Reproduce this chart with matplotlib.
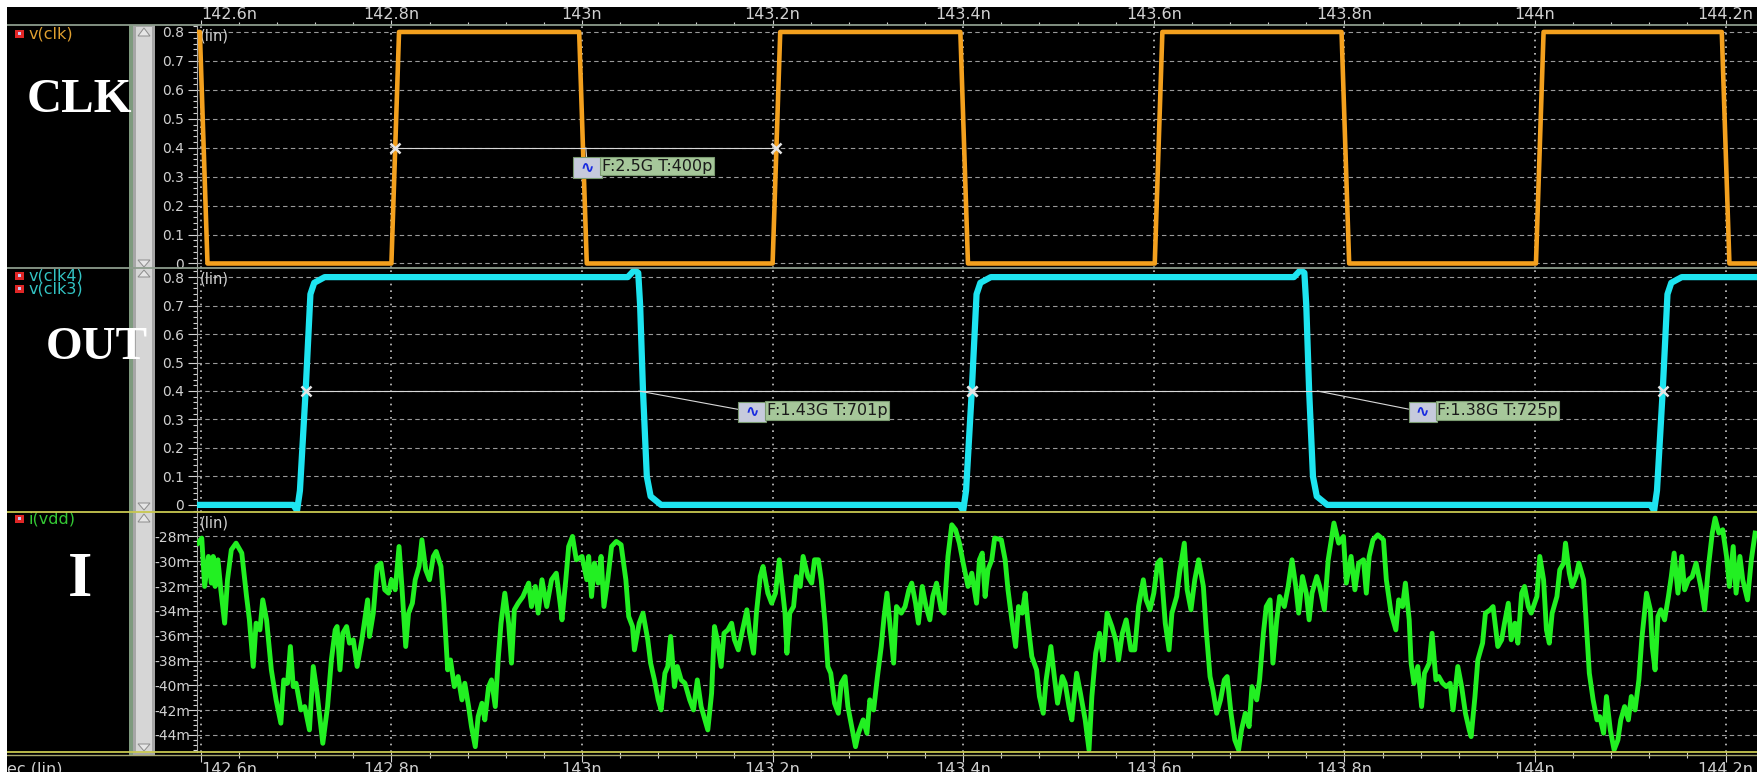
import matplotlib.pyplot as plt
from matplotlib.patches import Rectangle, Polygon
from matplotlib.lines import Line2D
from matplotlib.ticker import MultipleLocator, FuncFormatter

# ---- data, time in ns ----
t_lim = (142.596, 144.234)
x_ticks = [142.6, 142.8, 143.0, 143.2, 143.4, 143.6, 143.8, 144.0, 144.2]
x_labels = ["142.6n", "142.8n", "143n", "143.2n", "143.4n", "143.6n", "143.8n", "144n", "144.2n"]

v_ticks = [0, 0.1, 0.2, 0.3, 0.4, 0.5, 0.6, 0.7, 0.8]
i_ticks = [-28, -30, -32, -34, -36, -38, -40, -42, -44]

# v(clk)
clk_t = [142.596, 142.599, 142.607, 142.800, 142.808, 142.997, 143.005, 143.200, 143.208,
         143.397, 143.405, 143.601, 143.609, 143.797, 143.805, 144.001, 144.009, 144.196,
         144.204, 144.234]
clk_v = [0.8, 0.8, 0.0, 0.0, 0.8, 0.8, 0.0, 0.0, 0.8,
         0.8, 0.0, 0.0, 0.8, 0.8, 0.0, 0.0, 0.8, 0.8,
         0.0, 0.0]

# v(clk4) / v(clk3)
out_t = [142.596, 142.697, 142.701, 142.704, 142.710, 142.715, 142.719, 142.730,
         143.048, 143.055, 143.059, 143.061, 143.064, 143.068, 143.072, 143.083,
         143.396, 143.400, 143.403, 143.409, 143.414, 143.418, 143.429,
         143.747, 143.754, 143.758, 143.760, 143.763, 143.767, 143.771, 143.782,
         144.121, 144.125, 144.128, 144.134, 144.139, 144.143, 144.154, 144.234]
out_v = [0.0, 0.0, -0.02, 0.05, 0.40, 0.74, 0.78, 0.80,
         0.80, 0.825, 0.815, 0.70, 0.40, 0.10, 0.03, 0.0,
         0.0, -0.02, 0.05, 0.40, 0.74, 0.78, 0.80,
         0.80, 0.825, 0.815, 0.70, 0.40, 0.10, 0.03, 0.0,
         0.0, -0.02, 0.05, 0.40, 0.74, 0.78, 0.80, 0.80]

# i(vdd) in mA, (time, current)
idd = [
    (142.597, -28.54), (142.601, -28.13), (142.604, -32.03), (142.608, -29.61), (142.611, -31.76),
    (142.613, -29.61), (142.615, -32.03), (142.618, -29.88), (142.621, -32.30), (142.625, -34.99),
    (142.628, -31.49), (142.632, -29.08), (142.637, -28.54), (142.643, -29.34), (142.648, -32.84),
    (142.651, -34.72), (142.655, -38.48), (142.658, -34.99), (142.662, -35.53), (142.665, -33.11),
    (142.669, -34.72), (142.674, -38.75), (142.679, -41.17), (142.684, -43.05), (142.687, -39.56),
    (142.691, -39.83), (142.694, -36.87), (142.697, -40.10), (142.700, -39.83), (142.705, -41.98),
    (142.709, -41.71), (142.714, -43.59), (142.718, -38.48), (142.722, -40.63), (142.728, -44.67),
    (142.733, -41.71), (142.737, -37.95), (142.741, -35.53), (142.743, -35.26), (142.746, -38.75),
    (142.749, -35.80), (142.753, -35.26), (142.756, -36.60), (142.760, -36.33), (142.764, -38.48),
    (142.769, -36.33), (142.772, -34.72), (142.775, -33.11), (142.777, -36.06), (142.781, -34.18),
    (142.785, -30.42), (142.789, -30.15), (142.793, -32.30), (142.797, -32.57), (142.800, -31.49),
    (142.804, -32.30), (142.808, -28.81), (142.811, -32.03), (142.815, -36.87), (142.818, -34.18),
    (142.822, -33.38), (142.825, -31.49), (142.829, -30.42), (142.832, -28.27), (142.836, -30.69),
    (142.840, -31.49), (142.844, -29.61), (142.847, -29.21), (142.852, -30.42), (142.855, -33.38),
    (142.859, -38.75), (142.862, -37.95), (142.866, -40.10), (142.870, -39.29), (142.874, -41.17),
    (142.877, -39.83), (142.881, -41.71), (142.884, -43.32), (142.888, -44.94), (142.891, -42.52),
    (142.895, -41.44), (142.898, -42.78), (142.902, -40.10), (142.905, -39.56), (142.909, -41.71),
    (142.912, -37.95), (142.915, -34.99), (142.919, -32.57), (142.923, -34.99), (142.926, -38.21),
    (142.929, -33.91), (142.933, -33.38), (142.938, -32.84), (142.944, -31.76), (142.947, -33.65),
    (142.951, -32.03), (142.954, -34.18), (142.958, -31.49), (142.963, -33.65), (142.968, -31.49),
    (142.973, -30.96), (142.977, -33.38), (142.979, -34.72), (142.983, -31.49), (142.986, -28.81),
    (142.990, -28.00), (142.994, -29.88), (143.000, -29.61),
    (143.005, -31.49), (143.007, -29.61), (143.010, -32.84), (143.013, -30.15), (143.017, -31.76),
    (143.020, -29.61), (143.023, -33.65), (143.027, -31.49), (143.031, -28.81), (143.036, -28.40),
    (143.041, -28.67), (143.046, -31.49), (143.049, -34.45), (143.053, -35.26), (143.055, -37.14),
    (143.060, -34.99), (143.064, -34.18), (143.069, -36.33), (143.072, -38.21), (143.076, -39.56),
    (143.080, -41.17), (143.083, -41.98), (143.087, -39.02), (143.090, -38.48), (143.093, -36.06),
    (143.097, -40.10), (143.100, -38.48), (143.104, -39.56), (143.108, -39.83), (143.113, -41.17),
    (143.117, -41.98), (143.121, -39.56), (143.125, -41.71), (143.129, -42.78), (143.132, -43.59),
    (143.136, -40.63), (143.139, -35.26), (143.142, -36.33), (143.146, -38.48), (143.149, -35.80),
    (143.153, -35.53), (143.157, -34.99), (143.160, -36.33), (143.164, -37.14), (143.167, -36.06),
    (143.173, -33.91), (143.176, -35.80), (143.180, -37.41), (143.183, -34.18), (143.187, -31.23),
    (143.190, -30.42), (143.195, -32.57), (143.199, -33.38), (143.203, -32.57), (143.207, -29.88),
    (143.210, -32.03), (143.213, -34.18), (143.215, -37.41), (143.218, -34.18), (143.222, -33.65),
    (143.225, -31.23), (143.229, -32.03), (143.232, -29.61), (143.237, -31.23), (143.241, -31.76),
    (143.244, -29.88), (143.248, -29.88), (143.251, -31.49), (143.255, -34.99), (143.258, -38.48),
    (143.261, -39.02), (143.265, -41.44), (143.269, -42.25), (143.272, -39.83), (143.276, -39.29),
    (143.279, -41.71), (143.283, -43.32), (143.287, -44.94), (143.290, -43.86), (143.295, -42.78),
    (143.299, -43.86), (143.302, -41.17), (143.306, -41.98), (143.310, -39.29), (143.314, -36.87),
    (143.317, -34.45), (143.320, -32.57), (143.323, -34.99), (143.327, -38.21), (143.330, -33.65),
    (143.335, -34.18), (143.339, -33.65), (143.343, -32.30), (143.346, -31.76), (143.350, -33.38),
    (143.353, -34.99), (143.357, -32.03), (143.361, -33.65), (143.365, -34.72), (143.368, -32.84),
    (143.372, -31.76), (143.377, -33.91), (143.380, -34.18), (143.384, -29.61), (143.388, -27.06),
    (143.392, -27.46), (143.396, -28.54), (143.400, -30.15), (143.405, -32.03), (143.409, -30.96),
    (143.414, -33.38), (143.417, -29.88), (143.420, -29.34), (143.423, -32.84), (143.426, -30.69),
    (143.430, -29.88), (143.433, -28.13), (143.440, -28.27), (143.444, -29.88), (143.447, -32.30),
    (143.451, -34.72), (143.455, -36.87), (143.458, -33.65), (143.462, -34.18), (143.465, -32.57),
    (143.468, -34.99), (143.472, -37.68), (143.477, -38.75), (143.480, -40.90), (143.484, -42.25),
    (143.487, -39.56), (143.492, -36.87), (143.496, -39.56), (143.499, -41.44), (143.504, -39.29),
    (143.507, -39.83), (143.511, -41.71), (143.514, -42.78), (143.519, -39.02), (143.523, -40.63),
    (143.528, -42.78), (143.532, -45.20), (143.535, -40.90), (143.539, -37.41), (143.543, -35.80),
    (143.547, -37.95), (143.551, -34.18), (143.556, -35.26), (143.560, -36.33), (143.563, -37.95),
    (143.567, -35.80), (143.571, -34.72), (143.576, -37.14), (143.580, -37.14), (143.584, -33.65),
    (143.589, -31.49), (143.592, -33.11), (143.596, -33.91), (143.600, -32.57), (143.604, -30.15),
    (143.607, -29.88), (143.612, -34.99), (143.616, -37.14), (143.619, -34.18), (143.624, -32.84),
    (143.627, -30.96), (143.632, -28.54), (143.635, -32.30), (143.639, -33.91), (143.643, -31.49),
    (143.647, -29.88), (143.652, -32.03), (143.655, -35.53), (143.659, -39.29), (143.662, -40.37),
    (143.666, -42.25), (143.670, -41.17), (143.674, -39.56), (143.677, -39.29), (143.681, -42.25),
    (143.685, -44.40), (143.689, -45.20), (143.692, -43.59), (143.696, -42.25), (143.700, -43.32),
    (143.703, -40.10), (143.708, -41.17), (143.711, -39.56), (143.715, -35.80), (143.718, -33.65),
    (143.722, -33.11), (143.725, -38.21), (143.729, -34.72), (143.732, -32.84), (143.737, -33.65),
    (143.741, -32.03), (143.745, -29.88), (143.749, -32.03), (143.752, -34.18), (143.756, -31.23),
    (143.760, -32.57), (143.763, -34.72), (143.766, -32.57), (143.771, -31.23), (143.774, -32.03),
    (143.779, -33.91), (143.783, -29.88), (143.789, -26.92), (143.794, -28.54), (143.799, -28.00),
    (143.802, -31.76), (143.807, -29.61), (143.811, -32.30), (143.815, -30.15), (143.820, -29.88),
    (143.823, -32.57), (143.826, -29.61), (143.830, -28.27), (143.835, -27.87), (143.841, -28.27),
    (143.844, -31.49), (143.849, -34.18), (143.854, -35.53), (143.857, -33.11), (143.861, -33.65),
    (143.864, -31.76), (143.868, -34.72), (143.870, -38.21), (143.873, -39.83), (143.877, -38.48),
    (143.881, -41.71), (143.884, -39.02), (143.889, -38.21), (143.892, -35.80), (143.896, -39.56),
    (143.899, -39.29), (143.903, -39.83), (143.907, -40.10), (143.911, -39.83), (143.914, -41.98),
    (143.919, -38.48), (143.923, -40.10), (143.927, -42.25), (143.931, -43.59), (143.933, -44.13),
    (143.937, -40.90), (143.940, -37.95), (143.945, -36.60), (143.948, -34.18), (143.953, -33.91),
    (143.956, -33.65), (143.961, -36.87), (143.965, -36.33), (143.968, -34.99), (143.972, -33.38),
    (143.975, -36.33), (143.979, -34.99), (143.982, -36.60), (143.986, -32.57), (143.989, -32.03),
    (143.993, -33.65), (143.996, -34.18), (144.002, -32.84), (144.005, -29.61), (144.009, -31.49),
    (144.012, -35.53), (144.015, -36.60), (144.018, -34.18), (144.023, -32.84), (144.026, -30.69),
    (144.030, -30.15), (144.032, -28.54), (144.036, -30.96), (144.039, -32.03), (144.043, -31.23),
    (144.046, -30.15), (144.051, -31.49), (144.054, -35.26), (144.057, -39.02), (144.061, -41.17),
    (144.065, -42.78), (144.068, -42.52), (144.072, -43.86), (144.075, -40.90), (144.079, -43.59),
    (144.083, -45.20), (144.087, -44.40), (144.090, -42.78), (144.094, -41.71), (144.098, -42.78),
    (144.101, -40.90), (144.105, -41.98), (144.109, -39.56), (144.112, -36.33), (144.117, -32.57),
    (144.121, -33.91), (144.123, -36.87), (144.126, -38.75), (144.129, -34.45), (144.132, -33.91),
    (144.136, -34.72), (144.140, -32.84), (144.143, -31.23), (144.146, -29.34), (144.150, -32.57),
    (144.154, -29.61), (144.157, -32.30), (144.161, -31.49), (144.165, -31.23), (144.169, -30.15),
    (144.174, -32.03), (144.178, -33.91), (144.182, -30.42), (144.186, -27.73), (144.189, -26.52),
    (144.193, -27.73), (144.197, -27.46), (144.201, -29.61), (144.204, -32.03), (144.208, -28.81),
    (144.211, -32.57), (144.215, -29.61), (144.218, -31.49), (144.223, -33.11), (144.227, -29.88),
    (144.231, -27.73),
]
idd_t = [p[0] for p in idd]
idd_v = [p[1] for p in idd]

# period measurements: (start, end, label)
clk_meas = [(142.804, 143.204, "F:2.5G T:400p")]
out_meas = [(142.710, 143.409, "F:1.43G T:701p"), (143.409, 144.134, "F:1.38G T:725p")]

# ---- figure ----
W, H = 1758, 772
fig = plt.figure(figsize=(W / 100, H / 100), dpi=100, facecolor="black")

TXT = "#d2d2d2"
GRID_H = "#9a9a9a"
GRID_V = "#c8c8c8"


def px_box(x, y, w, h):
    return [x / W, 1 - (y + h) / H, w / W, h / H]


def fig_rect(x, y, w, h, color, z=1):
    fig.add_artist(Rectangle((x / W, 1 - (y + h) / H), w / W, h / H,
                             transform=fig.transFigure, fc=color, ec="none", zorder=z))


def fig_hline(y, x0, x1, color, lw=1.3):
    fig.add_artist(Line2D([x0 / W, x1 / W], [1 - y / H] * 2, transform=fig.transFigure,
                          color=color, lw=lw, zorder=6))


def fig_tri(xc, y_base, y_tip):
    pts = [(xc - 6, y_base), (xc + 6, y_base), (xc, y_tip)]
    fig.add_artist(Polygon([(x / W, 1 - y / H) for x, y in pts], closed=True,
                           transform=fig.transFigure, fc="#e6e6e6", ec="#8c8c8c", lw=0.7, zorder=3))


def fig_text(x, y, s, **kw):
    fig.text(x / W, 1 - y / H, s, **kw)


ax_clk = fig.add_axes(px_box(197, 25, 1561, 243))
ax_out = fig.add_axes(px_box(197, 268, 1561, 244))
ax_i = fig.add_axes(px_box(197, 512, 1561, 240))

for ax in (ax_clk, ax_out, ax_i):
    ax.set_facecolor("black")
    ax.set_xlim(*t_lim)
    for s in ("top", "right", "bottom"):
        ax.spines[s].set_visible(False)
    ax.spines["left"].set_color("#a8a8a8")
    ax.set_xticks(x_ticks)
    ax.set_xticklabels(x_labels)
    ax.xaxis.set_minor_locator(MultipleLocator(0.04))
    ax.tick_params(axis="x", which="both", bottom=False, labelbottom=False, top=False, labeltop=False)
    ax.tick_params(axis="y", which="major", colors=TXT, labelsize=10, length=6.5, width=0.8, pad=3)
    ax.tick_params(axis="y", which="minor", colors=TXT, length=3, width=0.8)
    ax.grid(axis="y", which="major", color=GRID_H, ls=(0, (4, 3)), lw=0.8)
    ax.grid(axis="x", which="major", color=GRID_V, ls=(0, (1, 3)), lw=1.2)
    ax.set_axisbelow(True)
    ax.text(0.002, 0.985, "(lin)", transform=ax.transAxes, ha="left", va="top",
            color=TXT, fontsize=10.5, zorder=1)

# voltage panels
for ax, lo, hi in ((ax_clk, -0.0156, 0.824), (ax_out, -0.025, 0.832)):
    ax.set_ylim(lo, hi)
    ax.set_yticks(v_ticks)
    ax.yaxis.set_major_formatter(FuncFormatter(lambda v, p: f"{v:g}"))
    ax.yaxis.set_minor_locator(MultipleLocator(0.02))

# current panel
ax_i.set_ylim(-45.37, -26.03)
ax_i.set_yticks(i_ticks)
ax_i.yaxis.set_major_formatter(FuncFormatter(lambda v, p: f"{v:g}m"))
ax_i.yaxis.set_minor_locator(MultipleLocator(0.4))
ax_i.tick_params(axis="y", which="major", pad=-1.5)

# time axis on top and bottom
ax_clk.tick_params(axis="x", which="both", top=True, labeltop=True, direction="out",
                   colors=TXT, width=0.8)
ax_clk.tick_params(axis="x", which="major", length=3.6, pad=-1.5, labelsize=11.5)
ax_clk.tick_params(axis="x", which="minor", length=2.4)
ax_clk.xaxis.get_major_ticks()[0].label2.set_ha("left")

ax_i.tick_params(axis="x", which="both", bottom=True, labelbottom=True, direction="out",
                 colors=TXT, width=0.8)
ax_i.tick_params(axis="x", which="major", length=7, pad=0.5, labelsize=11.5)
ax_i.tick_params(axis="x", which="minor", length=4)
ax_i.xaxis.get_major_ticks()[0].label1.set_ha("left")

# traces
ax_clk.plot(clk_t, clk_v, color="#f3a01e", lw=3.3, zorder=3)
ax_out.plot(out_t, out_v, color="#1ee4f0", lw=4.5, zorder=3)
ax_i.plot(idd_t, idd_v, color="#22f022", lw=3.5, zorder=3)


def draw_meas(ax, t0, t1, label, dx, dy):
    ax.plot([t0, t1], [0.4, 0.4], color="#d8d8d8", lw=0.8, zorder=4)
    ax.plot([t0, t1], [0.4, 0.4], ls="none", marker="x", ms=7.5, mew=1.8, color="#e4e4e4", zorder=5)
    mid = (t0 + t1) / 2
    ax.annotate(" \u223f ", xy=(mid, 0.4), xytext=(dx, dy), textcoords="offset pixels",
                ha="left", va="top", color="#1a2ce0", fontsize=12, fontweight="bold",
                bbox=dict(boxstyle="square,pad=0.08", fc="#c6cadc", ec="#7a9a70", lw=0.8),
                arrowprops=dict(arrowstyle="-", color="#d8d8d8", lw=0.8, shrinkA=0, shrinkB=0),
                zorder=6)
    ax.annotate(label, xy=(mid, 0.4), xytext=(dx + 27, dy), textcoords="offset pixels",
                ha="left", va="top", color="#1a1a1a", fontsize=11.5,
                bbox=dict(boxstyle="square,pad=0.1", fc="#a6c79a", ec="#7a9a70", lw=0.8),
                zorder=6)


for t0, t1, lab in clk_meas:
    draw_meas(ax_clk, t0, t1, lab, -11, -11)
for (t0, t1, lab), (dx, dy) in zip(out_meas, [(101, -12), (93, -12)]):
    draw_meas(ax_out, t0, t1, lab, dx, dy)

# ---- left strip: legend names, scrollbar ----
fig_rect(129, 25, 4, 730, "#7e9a7e")
fig_rect(133, 25, 22, 730, "#a6a6a6")
fig_rect(136, 27, 16, 726, "#d6d6d6", z=2)
for yb, yt in ((36, 28), (260, 267), (277, 270), (503, 510), (522, 514), (744, 751)):
    fig_tri(144, yb, yt)

icon_rows = [(34, "v(clk)", "#e0a030"), (276, "v(clk4)", "#33c4c4"),
             (289, "v(clk3)", "#33c4c4"), (519, "i(vdd)", "#34c834")]
for y, name, col in icon_rows:
    fig_rect(15, y - 4, 9, 8, "#e02626", z=4)
    fig_rect(18, y - 2, 3, 3, "#c8c8f4", z=5)
    fig_text(29, y, name, color=col, fontsize=11.5, ha="left", va="center")

big = dict(color="white", fontweight="bold", family="Liberation Serif", ha="center",
           va="center", zorder=8)
fig_text(79, 100, "CLK", fontsize=35, **big)
fig_text(97, 348, "OUT", fontsize=34, **big)
fig_text(80, 581, "I", fontsize=45, **big)

fig_text(7, 762, "ec (lin)", color=TXT, fontsize=11.5, ha="left", va="top")

# separators
fig_hline(25, 7, W, "#8c9c8c")
fig_hline(268, 7, W, "#8c9c8c")
fig_hline(512, 7, W, "#c8c850")
fig_hline(752, 7, W, "#c8c850")
fig_hline(755, 7, W, "#a8a870", lw=1.0)

# white frame at top and left edge
fig_rect(0, 0, W, 7, "white", z=10)
fig_rect(0, 0, 7, H, "white", z=10)

fig.savefig("out.png", dpi=100, facecolor="black")
